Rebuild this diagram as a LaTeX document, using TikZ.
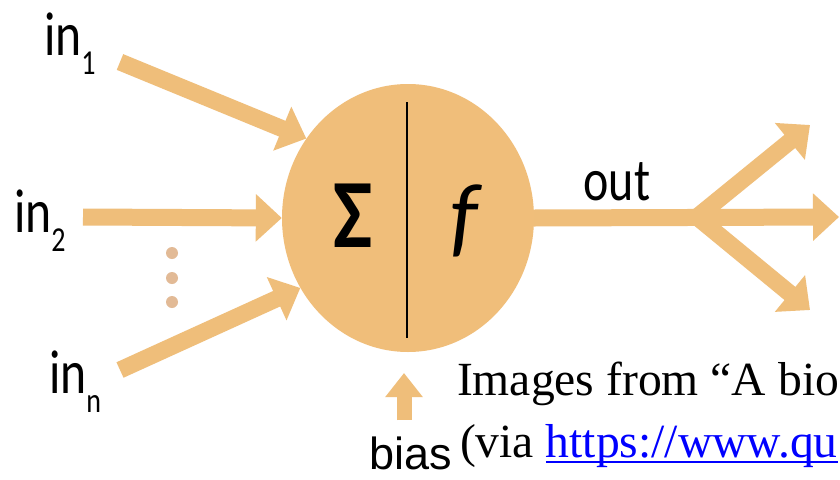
\documentclass[tikz,border=0pt]{standalone}
\usepackage{fontspec}
\usepackage{graphicx}
\setmainfont{Liberation Serif}
\newfontfamily\calfont{Carlito}
\newfontfamily\arialfont{Liberation Sans}
\usetikzlibrary{arrows.meta,shapes.geometric}
\definecolor{arr}{RGB}{239,190,122}
\definecolor{body}{RGB}{240,190,122}
\definecolor{dotc}{RGB}{226,186,150}
\definecolor{linkblue}{RGB}{0,0,255}
\newcommand\inlab[1]{\scalebox{0.8}[1]{\calfont\fontsize{62}{62}\selectfont in\raisebox{-19pt}{\fontsize{35}{35}\selectfont #1}}}
\tikzset{
  fat/.style={draw=arr, line width=17pt, -{Triangle[length=26pt,width=46pt]}},
  lab/.style={inner sep=0pt, outer sep=0pt},
  dotn/.style={circle, fill=dotc, minimum size=12pt, inner sep=0pt},
}
\begin{document}
\begin{tikzpicture}[x=1pt,y=-1pt]
\useasboundingbox (0,0) rectangle (840,479);
\fill[white] (0,0) rectangle (840,479);
\clip (0,0) rectangle (840,479);

% neuron body
\node[ellipse, fill=body, minimum width=252pt, minimum height=268pt, inner sep=0pt] (n) at (408,218) {};
\coordinate (vtop) at (407,102);
\coordinate (vbot) at (407,338);
\draw[black, line width=1.2pt] (vtop) -- (vbot);
\node[lab, anchor=base] (sig) at (353,247) {\scalebox{0.85}[1]{\calfont\bfseries\fontsize{98}{98}\selectfont Σ}};
\node[lab, anchor=base] (f) at (464,246) {\calfont\itshape\fontsize{90}{90}\selectfont f};

% input labels
\node[lab, anchor=base west] (in1) at (44,55) {\inlab{1}};
\node[lab, anchor=base west] (in2) at (14,232) {\inlab{2}};
\node[lab, anchor=base west] (inn) at (49,393) {\inlab{n}};

% input arrows
\coordinate (s1) at (120,62);
\coordinate (s2) at (83,217);
\coordinate (sn) at (120,370);
\draw[fat] (s1) -- (n.142.6);
\draw[fat] (s2) -- (n.west);
\draw[fat] (sn) -- (n.213.2);

% dots
\node[dotn] (d1) at (172,253) {};
\node[dotn] (d2) at (172,278) {};
\node[dotn] (d3) at (172,302) {};

% output
\coordinate (br) at (697,217);
\coordinate (t1) at (810,125);
\coordinate (t2) at (839,217);
\coordinate (t3) at (810,310);
\draw[fat] (n.east) -- (t2);
\draw[fat, line cap=round] (br) -- (t1);
\draw[fat, line cap=round] (br) -- (t3);
\node[lab, anchor=base] (out) at (617,200) {\scalebox{0.8}[1]{\calfont\fontsize{60}{60}\selectfont out}};

% bias
\coordinate (bs) at (404,420);
\coordinate (bt) at (404,373);
\draw[draw=arr, line width=15pt, -{Triangle[length=24pt,width=36pt]}] (bs) -- (bt);
\node[lab, anchor=base east] (bias) at (452,469) {\arialfont\fontsize{45}{45}\selectfont bias};

% caption text
\node[lab, anchor=base west] (cap1) at (457,395) {\fontsize{47.6}{56}\selectfont Images from “A bio};
\node[lab, anchor=base west] (cap2) at (460,457) {\fontsize{47.6}{56}\selectfont (via\ \null};
\node[lab, anchor=base west, text=linkblue] (link) at (cap2.base east) {\fontsize{47.6}{56}\selectfont https://www.qu};
\draw[linkblue, line width=2.2pt] ([yshift=-5pt]link.base west) -- ([yshift=-5pt]link.base east);
\end{tikzpicture}
\end{document}
